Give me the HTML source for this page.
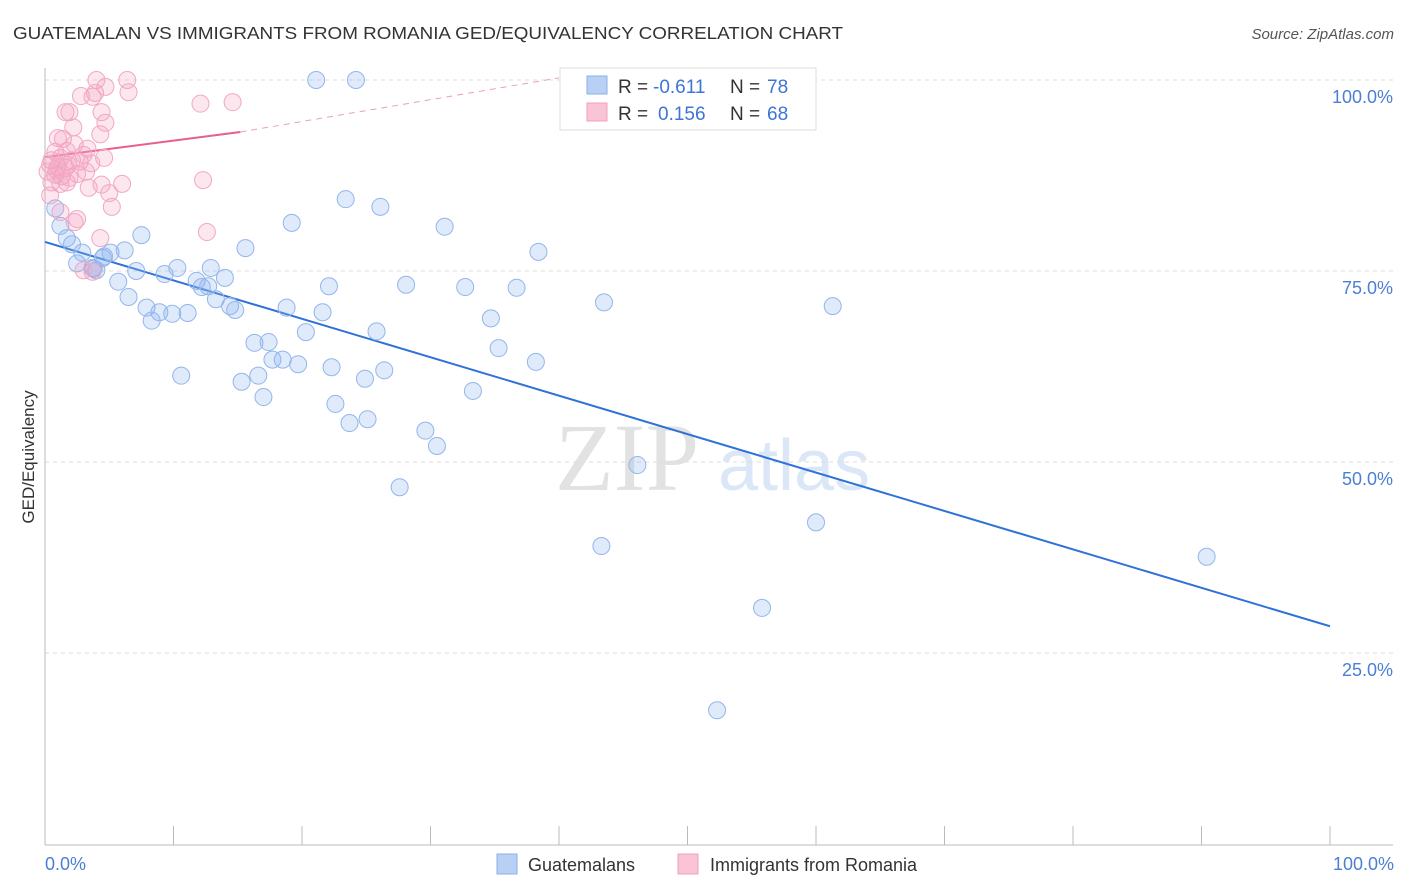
<!DOCTYPE html>
<html><head><meta charset="utf-8"><style>
body{margin:0;background:#fff;font-family:"Liberation Sans",sans-serif;}
svg{display:block}
</style></head><body>
<svg id="chart" width="1406" height="892">
<text x="13" y="39" font-size="17.5" fill="#333" textLength="830" lengthAdjust="spacingAndGlyphs">GUATEMALAN VS IMMIGRANTS FROM ROMANIA GED/EQUIVALENCY CORRELATION CHART</text>
<text x="1394" y="39" font-size="15" fill="#555" font-style="italic" text-anchor="end">Source: ZipAtlas.com</text>
<g>
<text x="555" y="490" font-size="96" fill="#e2e2e2" font-family="Liberation Serif,serif">ZIP</text>
<text x="718" y="490" font-size="72" fill="#dbe6f6">atlas</text>
</g>
<g id="grid"></g><g id="axes"></g><g id="lines"></g><g id="pts"></g>
<text transform="translate(34,457) rotate(-90)" font-size="17" fill="#333" text-anchor="middle">GED/Equivalency</text>
<text x="45" y="870" font-size="18" fill="#4a7fd4">0.0%</text>
<text x="1394" y="870" font-size="18" fill="#4a7fd4" text-anchor="end">100.0%</text>
<g>
<rect x="560" y="68" width="256" height="62" fill="#fff" stroke="#ddd"/>
<rect x="587" y="76" width="20" height="18" fill="#b8d0f4" stroke="#8ab0e8"/>
<rect x="587" y="103" width="20" height="18" fill="#f9c4d4" stroke="#f0a0bc"/>
<text x="618" y="93" font-size="19" fill="#333">R =</text>
<text x="653" y="93" font-size="19" fill="#3d75d6">-0.611</text>
<text x="730" y="93" font-size="19" fill="#333">N =</text>
<text x="767" y="93" font-size="19" fill="#3d75d6">78</text>
<text x="618" y="120" font-size="19" fill="#333">R =</text>
<text x="658" y="120" font-size="19" fill="#3d75d6">0.156</text>
<text x="730" y="120" font-size="19" fill="#333">N =</text>
<text x="767" y="120" font-size="19" fill="#3d75d6">68</text>
</g>
<g>
<rect x="497" y="854" width="20" height="20" fill="#b8d0f4" stroke="#8ab0e8"/>
<text x="528" y="871" font-size="18" fill="#333">Guatemalans</text>
<rect x="678" y="854" width="20" height="20" fill="#f9c4d4" stroke="#f0a0bc"/>
<text x="710" y="871" font-size="18" fill="#333">Immigrants from Romania</text>
</g>
</svg>
<script>
const yTicks=[25,50,75,100];
const yTickLabels=["25.0%","50.0%","75.0%","100.0%"];
const xTicks=[0,10,20,30,40,50,60,70,80,90,100];
const blueX=[21.1,24.2,23.4,26.1,19.2,31.1,38.4,0.8,1.2,1.7,2.1,2.9,2.5,3.7,4.0,4.5,5.1,6.2,7.5,15.6,7.1,9.3,10.3,12.9,14.0,11.8,12.2,12.7,13.3,14.4,14.8,5.7,6.5,7.9,8.3,8.9,9.9,11.1,18.8,22.1,21.6,20.3,25.8,28.1,32.7,36.7,34.7,43.5,61.3,16.3,17.4,17.7,18.5,19.7,22.3,24.9,26.4,35.3,38.2,10.6,15.3,16.6,17.0,22.6,23.7,25.1,33.3,29.6,30.5,27.6,46.1,43.3,60.0,90.4,55.8,52.3,3.8,4.6];
const blueY=[100,100,84.4,83.4,81.3,80.8,77.5,83.2,80.9,79.3,78.5,77.4,76.0,75.4,75.1,76.7,77.4,77.7,79.7,78.0,75.0,74.6,75.4,75.4,74.1,73.7,72.9,73.0,71.3,70.4,69.9,73.6,71.6,70.2,68.5,69.6,69.4,69.5,70.2,73.0,69.6,67.0,67.1,73.2,72.9,72.8,68.8,70.9,70.4,65.6,65.7,63.4,63.4,62.8,62.4,60.9,62.0,64.9,63.1,61.3,60.5,61.3,58.5,57.6,55.1,55.6,59.3,54.1,52.1,46.7,49.6,39.0,42.1,37.6,30.9,17.5,75.3,76.9];
const pinkX=[4.0,6.4,3.7,3.9,4.7,6.5,2.8,1.6,1.9,4.4,4.7,2.2,4.3,1.0,1.4,2.3,3.3,0.8,1.7,3.0,4.6,0.5,1.2,2.1,2.7,0.4,1.0,1.6,3.6,0.2,0.8,1.3,1.9,3.2,0.5,1.2,1.7,3.4,4.4,6.0,0.4,5.0,5.2,1.2,2.5,2.3,4.3,3.7,12.1,14.6,12.3,12.6,3.0,0.9,1.8,2.5];
const pinkY=[100,100,97.8,98.3,99.1,98.4,97.9,95.8,95.8,95.8,94.4,93.8,92.9,92.4,92.3,91.6,91.0,90.6,90.7,90.2,89.8,89.5,89.8,89.5,89.3,88.9,88.7,88.5,89.1,88.0,87.6,87.4,87.2,88.0,86.6,86.4,86.6,85.9,86.3,86.4,84.9,85.2,83.4,82.7,81.8,81.4,79.3,74.9,96.9,97.1,86.9,80.1,75.1,88.2,88.9,87.7];
const blueTrend=[78.8,-0.503]; // intercept, slope
const pinkTrend=[89.9,0.217];
const pinkSolidEnd=15.2, pinkDashEnd=40;

const X0=45,X1=1330,Y0=844,Y100=80;
const sx=v=>X0+(X1-X0)*v/100, sy=v=>Y0-(Y0-Y100)*v/100;
const NS="http://www.w3.org/2000/svg";
function mk(p,t,a){const e=document.createElementNS(NS,t);for(const k in a)e.setAttribute(k,a[k]);p.appendChild(e);return e;}
const grid=document.getElementById('grid'),axes=document.getElementById('axes'),lines=document.getElementById('lines'),pts=document.getElementById('pts');
yTicks.forEach((t,i)=>{
 const l=mk(grid,'line',{x1:X0,x2:1393,y1:sy(t),y2:sy(t),stroke:'#ddd','stroke-dasharray':'4,4'});
 
 
 const tx=mk(grid,'text',{x:1393,y:sy(t)+23,'font-size':18,fill:'#4a7fd4','text-anchor':'end'});
 tx.textContent=yTickLabels[i];
 
 
});
const ya=mk(axes,'line',{x1:X0,x2:X0,y1:68,y2:845,stroke:'#bbb'});


const xa=mk(axes,'line',{x1:X0,x2:1393,y1:845,y2:845,stroke:'#bbb'});


xTicks.forEach(t=>{
 const l=mk(axes,'line',{x1:sx(t),x2:sx(t),y1:826,y2:845,stroke:'#bbb'});
 
 
});
function dot(x,y,f,s,n){const c=mk(pts,'circle',{cx:sx(x),cy:sy(y),r:8.5,fill:f,stroke:s,'stroke-width':1});
 
 }
blueX.forEach((x,i)=>dot(x,blueY[i],'rgba(140,180,240,0.28)','#93b6ea','guatemalan-point'));
pinkX.forEach((x,i)=>dot(x,pinkY[i],'rgba(245,160,190,0.25)','#f2a8c2','romania-point'));
const bl=mk(lines,'line',{x1:sx(0),y1:sy(blueTrend[0]),x2:sx(100),y2:sy(blueTrend[0]+blueTrend[1]*100),stroke:'#2f72d8','stroke-width':2});


const pl=mk(lines,'line',{x1:sx(0),y1:sy(pinkTrend[0]),x2:sx(pinkSolidEnd),y2:sy(pinkTrend[0]+pinkTrend[1]*pinkSolidEnd),stroke:'#e8608a','stroke-width':2});


const pd=mk(lines,'line',{x1:sx(pinkSolidEnd),y1:sy(pinkTrend[0]+pinkTrend[1]*pinkSolidEnd),x2:sx(pinkDashEnd),y2:sy(pinkTrend[0]+pinkTrend[1]*pinkDashEnd+1.7),stroke:'#eaa0b8','stroke-width':1,'stroke-dasharray':'6,5'});


</script>
</body></html>
